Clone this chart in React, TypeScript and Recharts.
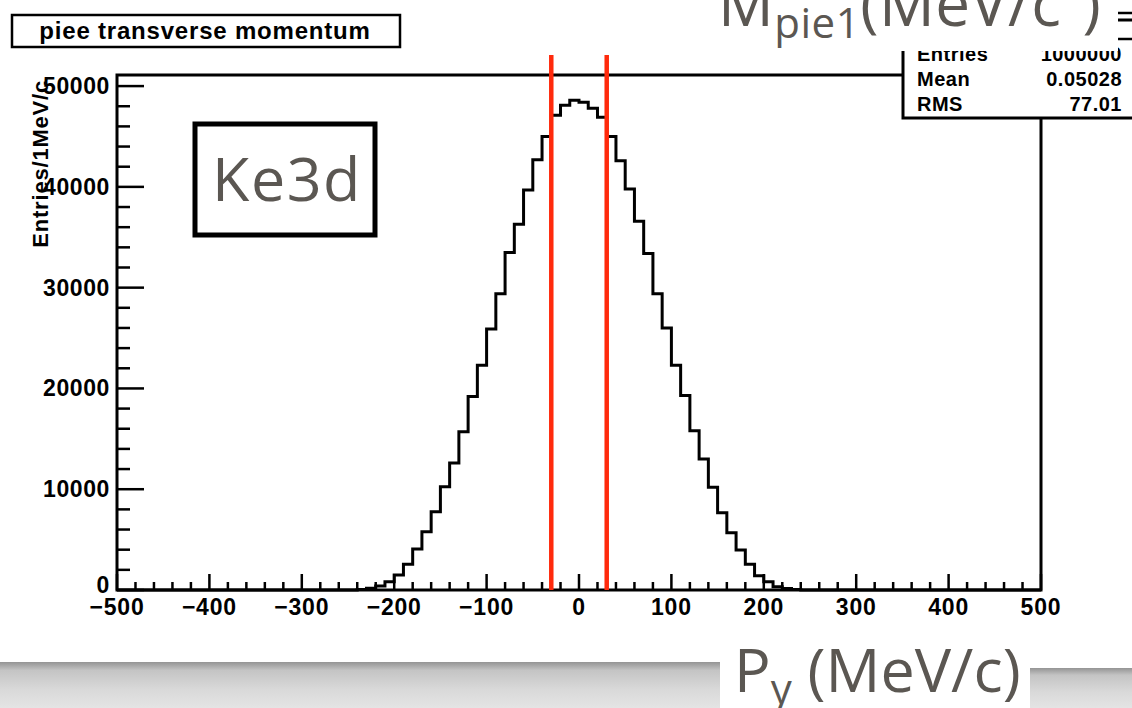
import { LineChart, Line, XAxis, YAxis, ReferenceLine, ReferenceArea } from "recharts";

// bin low edges (10 MeV/c bins), counts per bin
const binEdges = [
  -240, -230, -220, -210, -200, -190, -180, -170, -160, -150, -140, -130,
  -120, -110, -100, -90, -80, -70, -60, -50, -40, -30, -20, -10,
  0, 10, 20, 30, 40, 50, 60, 70, 80, 90, 100, 110,
  120, 130, 140, 150, 160, 170, 180, 190, 200, 210, 220, 230,
];
const binCounts = [
  50, 170, 400, 820, 1490, 2550, 4070, 5780, 7770, 10250, 12600, 15700,
  19200, 22300, 25900, 29400, 33500, 36300, 39700, 42700, 45000, 47100, 48100, 48600,
  48400, 47800, 46900, 45000, 42600, 39800, 36600, 33400, 29400, 26000, 22300, 19300,
  15800, 13000, 10200, 7670, 5680, 3970, 2550, 1420, 820, 330, 150, 50,
];

const xLabels = [-500, -400, -300, -200, -100, 0, 100, 200, 300, 400, 500];
const yLabels = [0, 10000, 20000, 30000, 40000, 50000];
const cutLines = [-30, 30];
const statNames = ["Entries", "Mean", "RMS"];
const statValues = ["1000000", "0.05028", "77.01"];

const Y_MAX = 51100;
const FONT = '"Liberation Sans", Arial, Helvetica, sans-serif';
const SLIDE_FONT = '"Open Sans", Lato, sans-serif';
const GRAY = "#5b5752";
const RED = "#ff2a0c";

const histData = [
  { x: -500, n: 0 },
  ...binEdges.map((e, i) => ({ x: e, n: binCounts[i] })),
  { x: 240, n: 0 },
  { x: 500, n: 0 },
];

// minor ticks every 20 / 2000, labelled ones every 100 / 10000
const xTicks = Array.from({ length: 51 }, (_, i) => -500 + i * 20);
const yTicks = Array.from({ length: 26 }, (_, i) => i * 2000);

const fmt = (v: number) => (v < 0 ? "\u2212" + Math.abs(v) : String(v));

const XTick = (props: any) => {
  const { x, y, payload } = props;
  const major = xLabels.includes(payload.value);
  return (
    <g>
      <line x1={x} x2={x} y1={y} y2={y - (major ? 16 : 8)} stroke="#000" strokeWidth={2.5} />
      {major && (
        <text x={x} y={y + 25} textAnchor="middle" fontFamily={FONT} fontWeight="bold" fontSize={23} letterSpacing={0.8} fill="#000">
          {fmt(payload.value)}
        </text>
      )}
    </g>
  );
};

const YTick = (props: any) => {
  const { x, y, payload } = props;
  const major = yLabels.includes(payload.value);
  return (
    <g>
      <line x1={x} x2={x + (major ? 27 : 13)} y1={y} y2={y} stroke="#000" strokeWidth={2.5} />
      {major && (
        <text x={x - 7} y={payload.value === 0 ? y + 3 : y + 8} textAnchor="end" fontFamily={FONT} fontWeight="bold" fontSize={23} letterSpacing={0.6} fill="#000">
          {payload.value}
        </text>
      )}
    </g>
  );
};

const CutLine = (p: any) => (
  <line x1={p.x1} x2={p.x2} y1={Math.min(p.y1, p.y2) - 20} y2={Math.max(p.y1, p.y2)} stroke={RED} strokeWidth={4.5} />
);

export default function App() {
  return (
    <div style={{ position: "absolute", left: 0, top: 0, width: 1132, height: 708, background: "#fff", overflow: "hidden" }}>
      <LineChart width={1132} height={708} data={histData} margin={{ top: 75, right: 91, bottom: 88, left: 7 }}>
        <XAxis
          dataKey="x"
          type="number"
          domain={[-500, 500]}
          ticks={xTicks}
          interval={0}
          height={30}
          tickSize={0}
          tickMargin={0}
          axisLine={false}
          tickLine={false}
          tick={XTick}
        />
        <YAxis
          type="number"
          domain={[0, Y_MAX]}
          ticks={yTicks}
          interval={0}
          width={110}
          tickSize={0}
          tickMargin={0}
          axisLine={false}
          tickLine={false}
          tick={YTick}
        />
        <ReferenceArea x1={-500} x2={500} y1={0} y2={Y_MAX} fill="none" stroke="#000" strokeWidth={3} ifOverflow="visible" />
        <Line type="stepAfter" dataKey="n" stroke="#000" strokeWidth={3} strokeLinejoin="miter" dot={false} isAnimationActive={false} />
        {cutLines.map((c) => (
          <ReferenceLine key={c} x={c} shape={CutLine} />
        ))}
      </LineChart>

      <svg width={1132} height={708} style={{ position: "absolute", left: 0, top: 0, pointerEvents: "none" }}>
        <defs>
          <linearGradient id="band" x1="0" y1="0" x2="0" y2="1">
            <stop offset="0" stopColor="#949494" />
            <stop offset="0.18" stopColor="#c4c4c4" />
            <stop offset="0.6" stopColor="#d9d9d9" />
            <stop offset="1" stopColor="#e4e4e4" />
          </linearGradient>
        </defs>

        {/* histogram title */}
        <rect x={12} y={15} width={388} height={32} fill="#fff" stroke="#000" strokeWidth={2.5} />
        <text x={205} y={39} textAnchor="middle" fontFamily={FONT} fontWeight="bold" fontSize={24} letterSpacing={0.8} fill="#000">
          piee transverse momentum
        </text>

        {/* y axis title */}
        <text transform="translate(48,80) rotate(-90)" textAnchor="end" fontFamily={FONT} fontWeight="bold" fontSize={22} letterSpacing={0.8} fill="#000">
          Entries/1MeV/c
        </text>

        {/* stats box */}
        <rect x={903} y={20} width={260} height={98} fill="#fff" stroke="#000" strokeWidth={3} />
        {statNames.map((s, i) => (
          <g key={s}>
            <text x={917} y={61 + i * 25} fontFamily={FONT} fontWeight="bold" fontSize={20} letterSpacing={0.5} fill="#000">
              {s}
            </text>
            <text x={1122} y={61 + i * 25} textAnchor="end" fontFamily={FONT} fontWeight="bold" fontSize={20} letterSpacing={0.5} fill="#000">
              {statValues[i]}
            </text>
          </g>
        ))}

        {/* slide overlay at the top right */}
        <rect x={705} y={0} width={413} height={51} fill="#fff" />
        <text x={718} y={26} fontFamily={SLIDE_FONT} fontSize={62} letterSpacing={0.5} fill={GRAY}>
          M<tspan fontSize={42} dy={12}>pie1</tspan>
          <tspan dy={-12}>(MeV/c</tspan>
          <tspan fontSize={36} dy={-26}>2</tspan>
          <tspan dy={26}>)</tspan>
        </text>
        <line x1={1118} x2={1132} y1={13} y2={13} stroke="#000" strokeWidth={2.5} />
        <line x1={1118} x2={1132} y1={39} y2={39} stroke="#000" strokeWidth={2.5} />

        {/* Ke3d label */}
        <rect x={195} y={124} width={180} height={111} fill="#fff" stroke="#000" strokeWidth={5} />
        <text x={287} y={201} textAnchor="middle" fontFamily={SLIDE_FONT} fontSize={61} letterSpacing={1.5} fill={GRAY}>
          Ke3d
        </text>

        {/* bottom slide band and axis caption */}
        <rect x={0} y={662} width={720} height={46} fill="url(#band)" />
        <rect x={1030} y={668} width={102} height={40} fill="url(#band)" />
        <text x={734} y={692} fontFamily={SLIDE_FONT} fontSize={61} fill={GRAY}>
          P<tspan fontSize={42} dy={12}>y</tspan>
          <tspan dy={-12}> (MeV/c)</tspan>
        </text>
      </svg>
    </div>
  );
}
